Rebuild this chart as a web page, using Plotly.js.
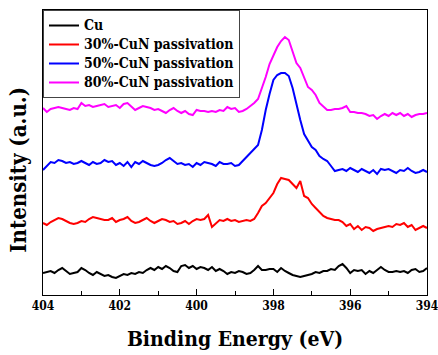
<!DOCTYPE html>
<html>
<head>
<meta charset="utf-8">
<script src="https://cdn.plot.ly/plotly-3.0.1.min.js"></script>
<style>html,body{margin:0;padding:0;background:#fff;}#chart{width:438px;height:355px;}</style>
</head>
<body>
<div id="chart"></div>
<script>
// Binding energy from 404 to 394 eV in 0.1 eV steps
var energyStart = 404;
var energyStep = -0.1;

var seriesNames = ["Cu", "30%-CuN passivation", "50%-CuN passivation", "80%-CuN passivation"];
var seriesColors = ["#000000", "#ff0000", "#0000ff", "#ff00ff"];

var cu = [27,28,29,27,30,32,29,26,27,28,32,
  30,27,25,28,26,24,25,23,22,24,
  26,25,27,26,28,27,30,32,30,33,
  31,34,32,29,28,34,35,32,34,31,
  33,32,30,33,29,31,29,26,28,27,
  29,28,26,27,30,34,30,30,31,31,
  28,32,29,27,25,24,23,24,25,26,
  28,27,29,29,31,30,34,36,32,27,
  30,29,30,26,29,27,30,33,30,28,
  28,29,28,29,27,30,31,28,29,32];

var cun30 = [77,75,78,80,82,81,79,77,76,77,79,
  78,81,83,82,81,80,80,82,78,80,
  81,83,79,77,78,80,82,79,77,79,
  81,80,78,79,76,77,79,76,79,81,
  80,81,85,73,77,80,79,81,79,80,
  78,79,80,79,81,87,94,97,102,107,
  116,122,121,120,116,112,119,104,102,96,
  92,88,84,82,81,80,80,78,74,76,
  71,74,70,73,72,69,71,72,73,74,
  73,76,75,77,73,75,70,72,74,72];

var cun50 = [130,134,138,137,140,139,137,138,136,137,139,
  137,135,138,136,137,140,138,139,135,137,
  134,138,133,138,136,139,137,135,134,135,
  137,140,142,139,136,137,135,136,133,137,
  135,138,137,136,134,138,136,136,137,134,
  135,139,143,147,151,155,170,190,206,220,
  225,227,227,224,212,195,180,166,160,153,
  150,144,141,139,134,129,130,131,129,132,
  130,128,131,129,127,130,126,131,130,131,
  129,127,130,129,132,129,127,128,130,128];

var cun80 = [192,188,191,192,193,192,191,190,192,191,197,
  194,195,193,194,195,196,193,194,195,192,
  196,197,193,190,192,194,193,192,190,191,
  189,187,190,192,189,187,189,186,185,190,
  189,189,188,189,188,190,189,193,191,192,
  188,189,191,194,197,201,211,223,236,245,
  253,259,263,260,248,237,232,222,213,210,
  205,197,193,190,190,191,191,192,194,188,
  188,187,187,186,184,185,181,184,186,184,
  187,185,187,184,186,183,185,186,186,187];

var energy = [];
for (var i = 0; i < cu.length; i++) {
  energy.push(Math.round((energyStart + energyStep * i) * 10) / 10);
}

var xTicks = [404, 402, 400, 398, 396, 394];

var allSeries = [cu, cun30, cun50, cun80];
var traces = allSeries.map(function (vals, k) {
  return {
    x: energy,
    y: vals,
    type: "scatter",
    mode: "lines",
    name: '<b style="font-size:14px">' + seriesNames[k] + '</b>',
    line: {color: seriesColors[k], width: 2}
  };
});

var serif = '"DejaVu Serif Condensed", "DejaVu Serif", serif';

var layout = {
  width: 438,
  height: 355,
  margin: {l: 43, r: 11, t: 10, b: 60},
  paper_bgcolor: "#ffffff",
  plot_bgcolor: "#ffffff",
  showlegend: true,
  legend: {
    x: 0, y: 1, xanchor: "left", yanchor: "top",
    bgcolor: "#ffffff",
    bordercolor: "#444444",
    borderwidth: 1,
    font: {family: serif, size: 12, color: "#000"},
    tracegroupgap: 0,
    itemwidth: 30
  },
  xaxis: {
    range: [404, 394],
    tickvals: xTicks,
    ticktext: xTicks.map(function (v) { return "<b>" + v + "</b>"; }),
    ticks: "inside",
    ticklen: 6,
    tickwidth: 1,
    tickcolor: "#000",
    minor: {dtick: 1, ticks: "inside", ticklen: 4, tickcolor: "#000"},
    ticklabeloverflow: "allow",
    showline: true,
    linecolor: "#000",
    linewidth: 1,
    mirror: true,
    showgrid: false,
    zeroline: false,
    automargin: false,
    tickfont: {family: serif, size: 12, color: "#000"},
    title: {text: "<b>Binding Energy (eV)</b>", font: {family: serif, size: 21, color: "#000"}, standoff: 18}
  },
  yaxis: {
    range: [5, 290],
    showticklabels: false,
    ticks: "",
    showline: true,
    linecolor: "#000",
    linewidth: 1,
    mirror: true,
    showgrid: false,
    zeroline: false,
    automargin: false
  },
  annotations: [{
    text: "<b>Intensity (a.u.)</b>",
    xref: "paper", yref: "paper",
    x: -0.065, y: 0.44,
    xanchor: "center", yanchor: "middle",
    textangle: -90,
    showarrow: false,
    font: {family: serif, size: 22, color: "#000"}
  }]
};

Plotly.newPlot("chart", traces, layout, {displayModeBar: false, staticPlot: true});
</script>
</body>
</html>
